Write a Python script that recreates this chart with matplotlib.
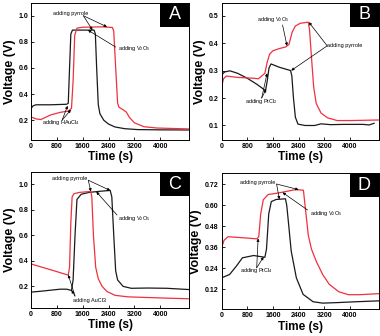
import matplotlib
matplotlib.use("Agg")
import matplotlib.pyplot as plt
from matplotlib.patches import Rectangle

plt.rcParams['font.family'] = ['Liberation Sans', 'DejaVu Sans']
plt.rcParams['mathtext.default'] = 'regular'

# ---------------- data (time in s, voltage in V) ----------------
# Panel A
tA_black = [0, 60, 150, 600, 1100, 1150, 1190, 1230, 1280, 1600, 1950, 1990, 2030, 2080,
            2130, 2250, 2400, 2600, 2900, 3300, 4000, 4900]
vA_black = [0.29, 0.31, 0.318, 0.318, 0.322, 0.33, 0.6, 0.86, 0.89, 0.89, 0.89, 0.86, 0.6, 0.32,
            0.25, 0.2, 0.17, 0.148, 0.135, 0.128, 0.126, 0.125]
tA_red = [0, 150, 300, 600, 900, 1150, 1250, 1300, 1350, 1420, 1600, 2200, 2520, 2560, 2620,
          2680, 2720, 2850, 2950, 3050, 3200, 3500, 3900, 4900]
vA_red = [0.224, 0.21, 0.205, 0.24, 0.26, 0.27, 0.29, 0.5, 0.85, 0.905, 0.912, 0.915, 0.91, 0.88, 0.6,
          0.33, 0.3, 0.28, 0.262, 0.22, 0.18, 0.15, 0.14, 0.133]

# Panel B
tB_black = [0, 100, 260, 500, 800, 1100, 1370, 1420, 1480, 1540, 1800, 2150, 2190, 2240, 2300,
            2380, 2600, 2900, 3100, 3400, 3800, 4400, 4600, 4750]
vB_black = [0.284, 0.295, 0.299, 0.29, 0.272, 0.25, 0.227, 0.26, 0.31, 0.324, 0.312, 0.3, 0.28, 0.2, 0.13,
            0.105, 0.1, 0.1, 0.106, 0.103, 0.104, 0.104, 0.102, 0.108]
tB_red = [0, 60, 150, 500, 1000, 1150, 1350, 1420, 1500, 1600, 1800, 2000, 2100, 2200, 2300, 2450,
          2700, 2740, 2800, 2870, 2950, 3100, 3300, 3600, 4000, 4900]
vB_red = [0.24, 0.27, 0.28, 0.275, 0.272, 0.27, 0.29, 0.33, 0.36, 0.372, 0.38, 0.386, 0.395, 0.44, 0.462,
          0.472, 0.476, 0.45, 0.35, 0.24, 0.18, 0.145, 0.128, 0.118, 0.118, 0.12]

# Panel C
tC_black = [0, 300, 600, 900, 1100, 1250, 1300, 1360, 1420, 1550, 1800, 2200, 2450, 2500, 2560,
            2620, 2680, 2850, 3100, 3600, 4200, 4900]
vC_black = [0.155, 0.162, 0.17, 0.178, 0.178, 0.168, 0.25, 0.6, 0.88, 0.92, 0.935, 0.945, 0.95, 0.9, 0.6,
            0.32, 0.25, 0.2, 0.185, 0.187, 0.185, 0.175]
tC_red = [0, 400, 800, 1150, 1190, 1230, 1270, 1330, 1500, 1850, 1880, 1930, 2000, 2080, 2200,
          2350, 2600, 3000, 3600, 4200, 4900]
vC_red = [0.375, 0.345, 0.315, 0.288, 0.35, 0.7, 0.9, 0.925, 0.935, 0.942, 0.9, 0.6, 0.35, 0.26, 0.2,
          0.16, 0.13, 0.118, 0.113, 0.108, 0.103]

# Panel D
tD_black = [0, 250, 450, 650, 1000, 1350, 1400, 1470, 1550, 1700, 1990, 2030, 2070, 2170, 2330,
            2540, 2850, 3150, 3600, 4200, 4900]
vD_black = [0.186, 0.205, 0.25, 0.3, 0.313, 0.303, 0.35, 0.55, 0.62, 0.632, 0.636, 0.6, 0.527, 0.338,
            0.186, 0.092, 0.05, 0.042, 0.045, 0.05, 0.055]
tD_red = [0, 80, 200, 600, 1100, 1160, 1220, 1300, 1450, 1800, 2300, 2550, 2600, 2660, 2700, 2800,
          2950, 3150, 3350, 3650, 3950, 4300, 4900]
vD_red = [0.357, 0.4, 0.42, 0.415, 0.408, 0.42, 0.55, 0.63, 0.66, 0.67, 0.688, 0.685, 0.6, 0.5, 0.43,
          0.35, 0.28, 0.205, 0.15, 0.107, 0.09, 0.09, 0.096]

xticks = [0, 800, 1600, 2400, 3200, 4000]
yticksA = [0.2, 0.4, 0.6, 0.8, 1.0]
yticksB = [0.1, 0.2, 0.3, 0.4, 0.5]
yticksC = [0.2, 0.4, 0.6, 0.8, 1.0]
yticksD = [0.12, 0.24, 0.36, 0.48, 0.60, 0.72]

RED = '#f0303f'
BLK = '#1a1a1a'

fig = plt.figure(figsize=[3.8, 3.36], dpi=100)
axA = fig.add_axes([0.082, 0.584, 0.416, 0.408])
axB = fig.add_axes([0.583, 0.584, 0.414, 0.408])
axC = fig.add_axes([0.082, 0.083, 0.416, 0.405])
axD = fig.add_axes([0.583, 0.079, 0.414, 0.406])


def style(ax, ylim, yticks, fmt, letter):
    ax.set_xlim(0, 4900)
    ax.set_ylim(*ylim)
    ax.set_xticks(xticks)
    ax.set_yticks(yticks)
    ax.set_yticklabels([fmt.format(v) for v in yticks])
    ax.tick_params(direction='in', length=2.5, width=0.6, labelsize=5, pad=2)
    for lab in ax.get_xticklabels() + ax.get_yticklabels():
        lab.set_fontweight('bold')
    for s in ax.spines.values():
        s.set_linewidth(0.7)
    ax.set_xlabel("Time (s)", fontsize=8.5, fontweight='bold', labelpad=1)
    ax.set_ylabel("Voltage (V)", fontsize=9, fontweight='bold', labelpad=2)
    # black letter box in the upper right corner
    ax.add_patch(Rectangle((0.816, 0.825), 0.184, 0.175, transform=ax.transAxes,
                           facecolor='black', edgecolor='none', zorder=5))
    ax.text(0.908, 0.912, letter, transform=ax.transAxes, color='white', fontsize=13,
            ha='center', va='center', zorder=6)


def arrow(ax, start, tgt):
    ax.annotate('', xy=tgt, xytext=start,
                arrowprops=dict(arrowstyle='-|>', lw=0.5, mutation_scale=4,
                                color='black', shrinkA=0, shrinkB=0))


lw = 0.9
axA.plot(tA_black, vA_black, color=BLK, lw=lw)
axA.plot(tA_red, vA_red, color=RED, lw=lw)
style(axA, (0.05, 1.1), yticksA, "{:.1f}", "A")
axA.text(680, 1.02, "adding pyrrole", fontsize=4, va='center')
arrow(axA, (1620, 1.0), (1900, 0.89))
arrow(axA, (1620, 1.0), (2350, 0.915))
axA.text(2700, 0.746, "adding V$_2$O$_5$", fontsize=4, va='center')
arrow(axA, (2620, 0.76), (1760, 0.89))
axA.text(340, 0.18, "adding HAuCl$_4$", fontsize=4, va='center')
arrow(axA, (960, 0.2), (1130, 0.31))
arrow(axA, (960, 0.2), (1230, 0.28))

axB.plot(tB_black, vB_black, color=BLK, lw=lw)
axB.plot(tB_red, vB_red, color=RED, lw=lw)
style(axB, (0.048, 0.547), yticksB, "{:.1f}", "B")
axB.text(1120, 0.484, "adding V$_2$O$_5$", fontsize=4, va='center')
arrow(axB, (1900, 0.466), (2040, 0.39))
axB.text(3300, 0.39, "adding pyrrole", fontsize=4, va='center')
arrow(axB, (3290, 0.39), (2720, 0.476))
arrow(axB, (3290, 0.39), (2170, 0.3))
axB.text(720, 0.186, "adding PtCl$_2$", fontsize=4, va='center')
arrow(axB, (1250, 0.2), (1390, 0.232))
arrow(axB, (1250, 0.2), (1420, 0.29))

axC.plot(tC_black, vC_black, color=BLK, lw=lw)
axC.plot(tC_red, vC_red, color=RED, lw=lw)
style(axC, (0.03, 1.094), yticksC, "{:.1f}", "C")
axC.text(650, 1.047, "adding pyrrole", fontsize=4, va='center')
arrow(axC, (1770, 1.03), (1850, 0.942))
arrow(axC, (1770, 1.03), (2450, 0.95))
axC.text(2700, 0.734, "adding V$_2$O$_5$", fontsize=4, va='center')
arrow(axC, (2660, 0.758), (2020, 0.94))
axC.text(1300, 0.093, "adding AuCl3", fontsize=4, va='center')
arrow(axC, (1360, 0.124), (1150, 0.29))
arrow(axC, (1360, 0.124), (1250, 0.17))

axD.plot(tD_black, vD_black, color=BLK, lw=lw)
axD.plot(tD_red, vD_red, color=RED, lw=lw)
style(axD, (0.006, 0.7825), yticksD, "{:.2f}", "D")
axD.text(567, 0.731, "adding pyrrole", fontsize=4, va='center')
arrow(axD, (1715, 0.72), (1800, 0.633))
arrow(axD, (1715, 0.72), (2400, 0.688))
axD.text(2740, 0.555, "adding V$_2$O$_5$", fontsize=4, va='center')
arrow(axD, (2680, 0.572), (1900, 0.672))
axD.text(567, 0.226, "adding PtCl$_4$", fontsize=4, va='center')
arrow(axD, (1095, 0.243), (1140, 0.41))
arrow(axD, (1095, 0.243), (1310, 0.305))

plt.savefig("out.png", dpi=100)
